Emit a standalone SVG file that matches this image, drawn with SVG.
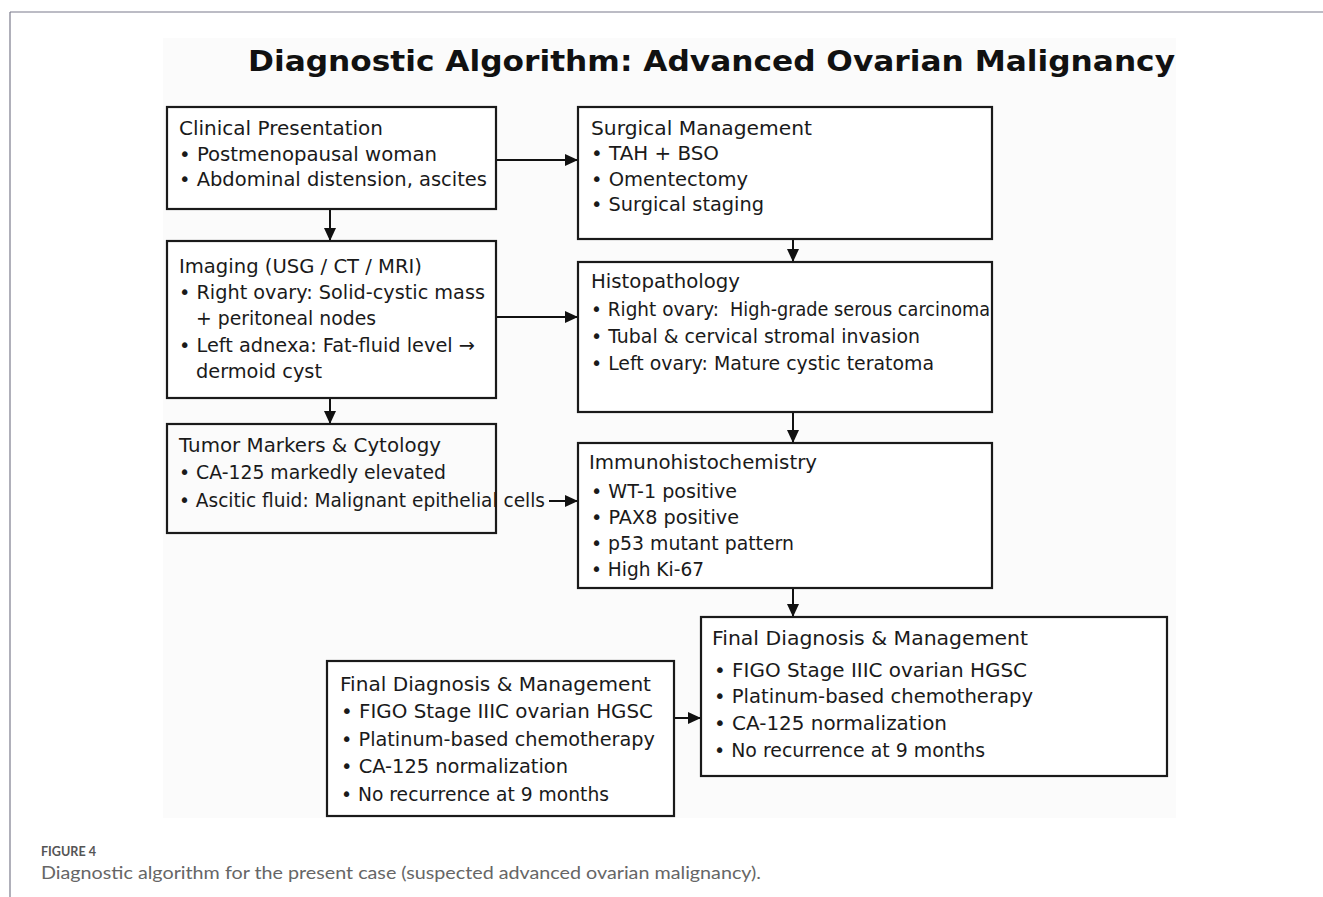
<svg xmlns="http://www.w3.org/2000/svg" width="1323" height="897" viewBox="0 0 1323 897">
<defs>
<style>
.box{fill:#ffffff;stroke:#1a1a1a;stroke-width:2.2}
.t{font-family:"DejaVu Sans","Liberation Sans",sans-serif;font-size:19.5px;fill:#1a1a1a;white-space:pre}
.h{font-size:20px}
.title{font-family:"DejaVu Sans","Liberation Sans",sans-serif;font-size:29px;font-weight:bold;fill:#111}
.conn{stroke:#111;stroke-width:2;fill:none;marker-end:url(#ah)}
.cap1{font-family:"Lato","Open Sans",sans-serif;font-size:14px;font-weight:bold;fill:#555}
.cap2{font-family:"Lato","Open Sans",sans-serif;font-size:18px;fill:#666}
</style>
<marker id="ah" markerUnits="userSpaceOnUse" markerWidth="13" markerHeight="12" refX="13" refY="6" orient="auto">
<path d="M0,0 L13,6 L0,12 Z" fill="#111"/>
</marker>
</defs>
<rect x="0" y="0" width="1323" height="897" fill="#ffffff"/>
<line x1="10" y1="12" x2="1323" y2="12" stroke="#7b7b8b" stroke-width="1.2"/>
<line x1="10" y1="12" x2="10" y2="897" stroke="#7b7b8b" stroke-width="1.2"/>
<rect x="163" y="38" width="1013" height="780" fill="#fbfbfb"/>
<text class="title" x="248" y="71" textLength="927" lengthAdjust="spacingAndGlyphs">Diagnostic Algorithm: Advanced Ovarian Malignancy</text>

<g id="connectors">
<line class="conn" x1="496" y1="160" x2="578" y2="160"/>
<line class="conn" x1="330" y1="209" x2="330" y2="241"/>
<line class="conn" x1="496" y1="317" x2="578" y2="317"/>
<line class="conn" x1="330" y1="398" x2="330" y2="424"/>
<line class="conn" x1="549" y1="501" x2="578" y2="501"/>
<line class="conn" x1="793" y1="239" x2="793" y2="262"/>
<line class="conn" x1="793" y1="412" x2="793" y2="443"/>
<line class="conn" x1="793" y1="588" x2="793" y2="617"/>
<line class="conn" x1="674" y1="718" x2="701" y2="718"/>
</g>

<g id="clinical">
<rect class="box" x="167" y="107" width="329" height="102"/>
<text class="t h" x="179" y="135" textLength="204" lengthAdjust="spacingAndGlyphs">Clinical Presentation</text>
<text class="t" x="179" y="161" textLength="258" lengthAdjust="spacingAndGlyphs">• Postmenopausal woman</text>
<text class="t" x="179" y="186" textLength="308" lengthAdjust="spacingAndGlyphs">• Abdominal distension, ascites</text>
</g>

<g id="imaging">
<rect class="box" x="167" y="241" width="329" height="157"/>
<text class="t h" x="179" y="273" textLength="243" lengthAdjust="spacingAndGlyphs">Imaging (USG / CT / MRI)</text>
<text class="t" x="179" y="299" textLength="306" lengthAdjust="spacingAndGlyphs">• Right ovary: Solid-cystic mass</text>
<text class="t" x="196" y="325" textLength="180" lengthAdjust="spacingAndGlyphs">+ peritoneal nodes</text>
<text class="t" x="179" y="352" textLength="296" lengthAdjust="spacingAndGlyphs">• Left adnexa: Fat-fluid level →</text>
<text class="t" x="196" y="378" textLength="126" lengthAdjust="spacingAndGlyphs">dermoid cyst</text>
</g>

<g id="tumor">
<text class="t" x="179" y="507" textLength="366" lengthAdjust="spacingAndGlyphs">• Ascitic fluid: Malignant epithelial cells</text>
<rect class="box" x="167" y="424" width="329" height="109" style="fill:none"/>
<text class="t h" x="179" y="452" textLength="262" lengthAdjust="spacingAndGlyphs">Tumor Markers &amp; Cytology</text>
<text class="t" x="179" y="479" textLength="267" lengthAdjust="spacingAndGlyphs">• CA-125 markedly elevated</text>
</g>

<g id="surgical">
<rect class="box" x="578" y="107" width="414" height="132"/>
<text class="t h" x="591" y="135" textLength="221" lengthAdjust="spacingAndGlyphs">Surgical Management</text>
<text class="t" x="591" y="160" textLength="128" lengthAdjust="spacingAndGlyphs">• TAH + BSO</text>
<text class="t" x="591" y="186" textLength="157" lengthAdjust="spacingAndGlyphs">• Omentectomy</text>
<text class="t" x="591" y="211" textLength="173" lengthAdjust="spacingAndGlyphs">• Surgical staging</text>
</g>

<g id="histo">
<rect class="box" x="578" y="262" width="414" height="150"/>
<text class="t h" x="591" y="288" textLength="149" lengthAdjust="spacingAndGlyphs">Histopathology</text>
<text class="t" y="316"><tspan x="591" textLength="128" lengthAdjust="spacingAndGlyphs">• Right ovary:</tspan><tspan x="730" textLength="260" lengthAdjust="spacingAndGlyphs">High-grade serous carcinoma</tspan></text>
<text class="t" x="591" y="343" textLength="329" lengthAdjust="spacingAndGlyphs">• Tubal &amp; cervical stromal invasion</text>
<text class="t" x="591" y="370" textLength="343" lengthAdjust="spacingAndGlyphs">• Left ovary: Mature cystic teratoma</text>
</g>

<g id="ihc">
<rect class="box" x="578" y="443" width="414" height="145"/>
<text class="t h" x="589" y="469" textLength="228" lengthAdjust="spacingAndGlyphs">Immunohistochemistry</text>
<text class="t" x="591" y="498" textLength="146" lengthAdjust="spacingAndGlyphs">• WT-1 positive</text>
<text class="t" x="591" y="524" textLength="148" lengthAdjust="spacingAndGlyphs">• PAX8 positive</text>
<text class="t" x="591" y="550" textLength="203" lengthAdjust="spacingAndGlyphs">• p53 mutant pattern</text>
<text class="t" x="591" y="576" textLength="113" lengthAdjust="spacingAndGlyphs">• High Ki-67</text>
</g>

<g id="final-right">
<rect class="box" x="701" y="617" width="466" height="159"/>
<text class="t h" x="712" y="645" textLength="316" lengthAdjust="spacingAndGlyphs">Final Diagnosis &amp; Management</text>
<text class="t h" x="714" y="677" textLength="313" lengthAdjust="spacingAndGlyphs">• FIGO Stage IIIC ovarian HGSC</text>
<text class="t h" x="714" y="703" textLength="319" lengthAdjust="spacingAndGlyphs">• Platinum-based chemotherapy</text>
<text class="t h" x="714" y="730" textLength="233" lengthAdjust="spacingAndGlyphs">• CA-125 normalization</text>
<text class="t h" x="714" y="757" textLength="271" lengthAdjust="spacingAndGlyphs">• No recurrence at 9 months</text>
</g>

<g id="final-left">
<rect class="box" x="327" y="661" width="347" height="155"/>
<text class="t h" x="340" y="691" textLength="311" lengthAdjust="spacingAndGlyphs">Final Diagnosis &amp; Management</text>
<text class="t h" x="341" y="718" textLength="312" lengthAdjust="spacingAndGlyphs">• FIGO Stage IIIC ovarian HGSC</text>
<text class="t h" x="341" y="746" textLength="314" lengthAdjust="spacingAndGlyphs">• Platinum-based chemotherapy</text>
<text class="t h" x="341" y="773" textLength="227" lengthAdjust="spacingAndGlyphs">• CA-125 normalization</text>
<text class="t h" x="341" y="801" textLength="268" lengthAdjust="spacingAndGlyphs">• No recurrence at 9 months</text>
</g>

<text class="cap1" x="41" y="856" textLength="55" lengthAdjust="spacingAndGlyphs">FIGURE 4</text>
<text class="cap2" x="41" y="879" textLength="720" lengthAdjust="spacingAndGlyphs">Diagnostic algorithm for the present case (suspected advanced ovarian malignancy).</text>
</svg>
